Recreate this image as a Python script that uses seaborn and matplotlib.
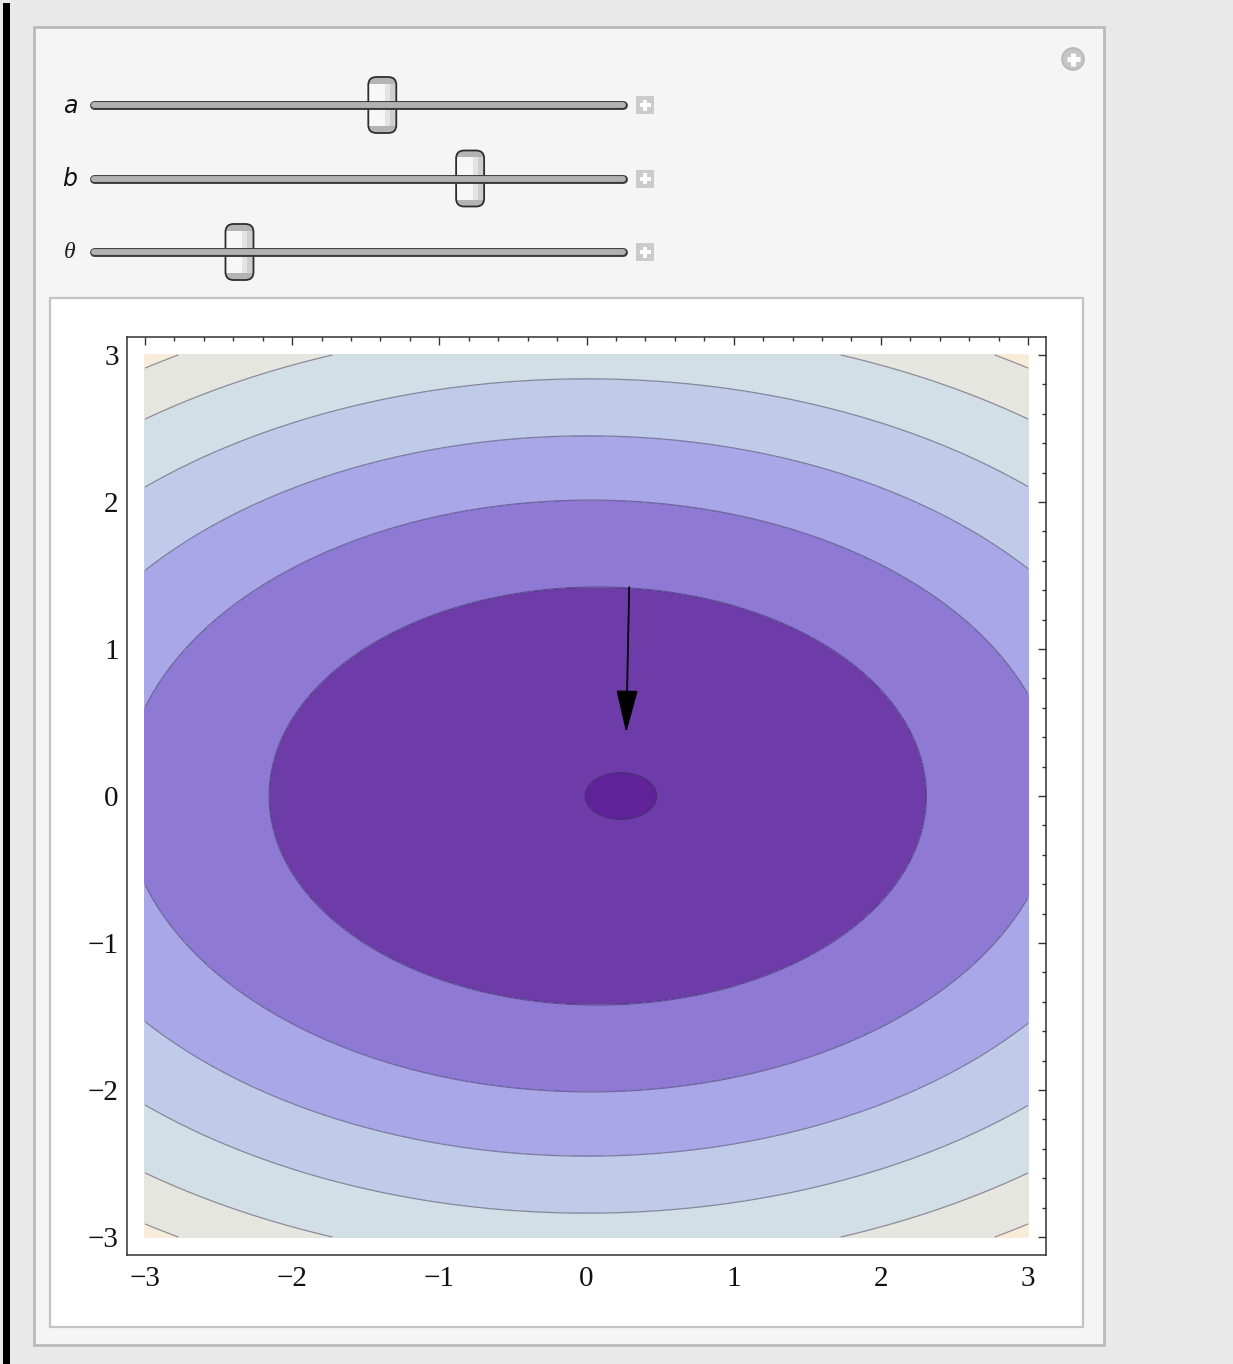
import numpy as np
import matplotlib
matplotlib.use("Agg")
import matplotlib.pyplot as plt
from matplotlib.patches import Rectangle, FancyBboxPatch, Circle
from matplotlib.ticker import MultipleLocator
import seaborn as sns

# contour field (ellipses around a slightly shifted minimum)
axis_ratio = 1.575         # x semi-axis / y semi-axis
inner_center_x = 0.24      # centre of the innermost ellipse
center_decay = 1.75        # how fast the centre drifts back to x=0 for outer contours
levels = [0.025, 2.02, 4.05, 6.0, 8.05, 10.2, 12.1]
band_colors = ["#5f2397", "#6d3ca8", "#8e7ad4", "#a9a7e8", "#c0cbea",
               "#d3dfe6", "#e6e6e0", "#f6ecd9"]
tick_values = [-3, -2, -1, 0, 1, 2, 3]

# gradient arrow
arrow_start = (0.29, 1.42)
arrow_end = (0.27, 0.43)

# sliders: label, thumb position along the track (0..1)
slider_labels = ["a", "b", "θ"]
slider_pos = [0.545, 0.711, 0.275]

W, H = 1233, 1364

sns.set_style("white")
plt.rcParams["axes.unicode_minus"] = True

fig = plt.figure(figsize=(W / 100, H / 100), dpi=100)
fig.patch.set_facecolor("#e9e9e9")

# ---- panel chrome in pixel coordinates
bg = fig.add_axes([0, 0, 1, 1])
bg.set_xlim(0, W)
bg.set_ylim(H, 0)
bg.axis("off")
bg.add_patch(Rectangle((3, 3), 6.5, H, color="black", lw=0))
bg.add_patch(Rectangle((34, 27), 1070, 1318, facecolor="#f5f5f5",
                       edgecolor="#bababa", lw=2))
bg.add_patch(Rectangle((49.5, 297.5), 1033, 1029, facecolor="white",
                       edgecolor="#c3c3c3", lw=1.6))

# corner "+" button
bg.add_patch(Circle((1073, 59), 11, facecolor="#c6c6c6", edgecolor="#b8b8b8", lw=1.2))
bg.plot([1066.5, 1079.5], [59, 59], color="white", lw=3.6, solid_capstyle="butt")
bg.plot([1073, 1073], [52.5, 65.5], color="white", lw=3.6, solid_capstyle="butt")

track_x0, track_x1 = 94, 623
for i, (lab, pos) in enumerate(zip(slider_labels, slider_pos)):
    yc = 105 + i * 73.5
    if lab == "θ":
        bg.text(70, yc, lab, ha="center", va="center", fontsize=17,
                family="Liberation Serif", style="italic", color="#222222")
    else:
        bg.text(70, yc + 1, lab, ha="center", va="center", fontsize=17,
                family="DejaVu Sans", style="italic", color="#111111")
    bg.plot([track_x0, track_x1], [yc, yc], color="#3a3a3a", lw=6.4,
            solid_capstyle="round")
    bg.plot([track_x0, track_x1], [yc, yc], color="#b2b2b2", lw=4.2,
            solid_capstyle="round")
    tx = track_x0 + pos * (track_x1 - track_x0)
    thumb = FancyBboxPatch((tx - 14, yc - 28), 28, 56,
                           boxstyle="round,pad=0,rounding_size=8",
                           facecolor="#f7f7f7", edgecolor="none", lw=0)
    bg.add_patch(thumb)
    for rect in [Rectangle((tx - 15, yc - 29), 30, 7.5, facecolor="#b4b4b4", lw=0),
                 Rectangle((tx - 15, yc + 21), 30, 8, facecolor="#b4b4b4", lw=0),
                 Rectangle((tx + 3, yc - 21.5), 5, 42.5, facecolor="#e4e4e4", lw=0),
                 Rectangle((tx + 8, yc - 21.5), 6, 42.5, facecolor="#cfcfcf", lw=0)]:
        bg.add_patch(rect)
        rect.set_clip_path(thumb)
    bg.add_patch(FancyBboxPatch((tx - 14, yc - 28), 28, 56,
                                boxstyle="round,pad=0,rounding_size=8",
                                facecolor="none", edgecolor="#2e2e2e", lw=1.3))
    # small "+" next to the slider
    bg.add_patch(Rectangle((636, yc - 9), 18, 18, facecolor="#cbcbcb", lw=0))
    bg.plot([639.5, 650.5], [yc, yc], color="white", lw=2.8, solid_capstyle="butt")
    bg.plot([645, 645], [yc - 5.5, yc + 5.5], color="white", lw=2.8, solid_capstyle="butt")

# ---- contour plot
px0, px1, py0, py1 = 127, 1046, 337, 1255
ax = fig.add_axes([px0 / W, 1 - py1 / H, (px1 - px0) / W, (py1 - py0) / H])
ax.set_facecolor("white")

xs = np.linspace(-3, 3, 801)
ys = np.linspace(-3, 3, 801)
X, Y = np.meshgrid(xs, ys)
rho2 = (X / axis_ratio) ** 2 + Y ** 2
shift = inner_center_x * np.exp(-rho2 / center_decay)
Z = ((X - shift) / axis_ratio) ** 2 + Y ** 2

fill_levels = [-1] + levels + [1e3]
ax.contourf(X, Y, Z, levels=fill_levels, colors=sns.color_palette(band_colors))
ax.contour(X, Y, Z, levels=levels, colors=[(0.15, 0.1, 0.25, 0.45)], linewidths=0.9)

ax.annotate("", xy=arrow_end, xytext=arrow_start,
            arrowprops=dict(arrowstyle="-|>,head_length=1.35,head_width=0.34",
                            mutation_scale=20, color="black", lw=1.3,
                            shrinkA=0, shrinkB=0))

lim = 3.122
ax.set_xlim(-lim, lim)
ax.set_ylim(-lim, lim)
ax.set_xticks(tick_values)
ax.set_yticks(tick_values)
ax.xaxis.set_minor_locator(MultipleLocator(0.2))
ax.yaxis.set_minor_locator(MultipleLocator(0.2))
ax.tick_params(which="both", direction="in", top=True, right=True,
               color="#333333", width=1.0)
ax.tick_params(which="major", length=6)
ax.tick_params(which="minor", length=3.2)
ax.tick_params(axis="x", pad=8)
ax.tick_params(axis="y", pad=6)
for lab in ax.get_xticklabels() + ax.get_yticklabels():
    lab.set_family("Liberation Serif")
    lab.set_fontsize(21)
    lab.set_color("#111111")
for sp in ax.spines.values():
    sp.set_color("#333333")
    sp.set_linewidth(1.1)

fig.savefig("out.png", dpi=100, facecolor=fig.get_facecolor())
